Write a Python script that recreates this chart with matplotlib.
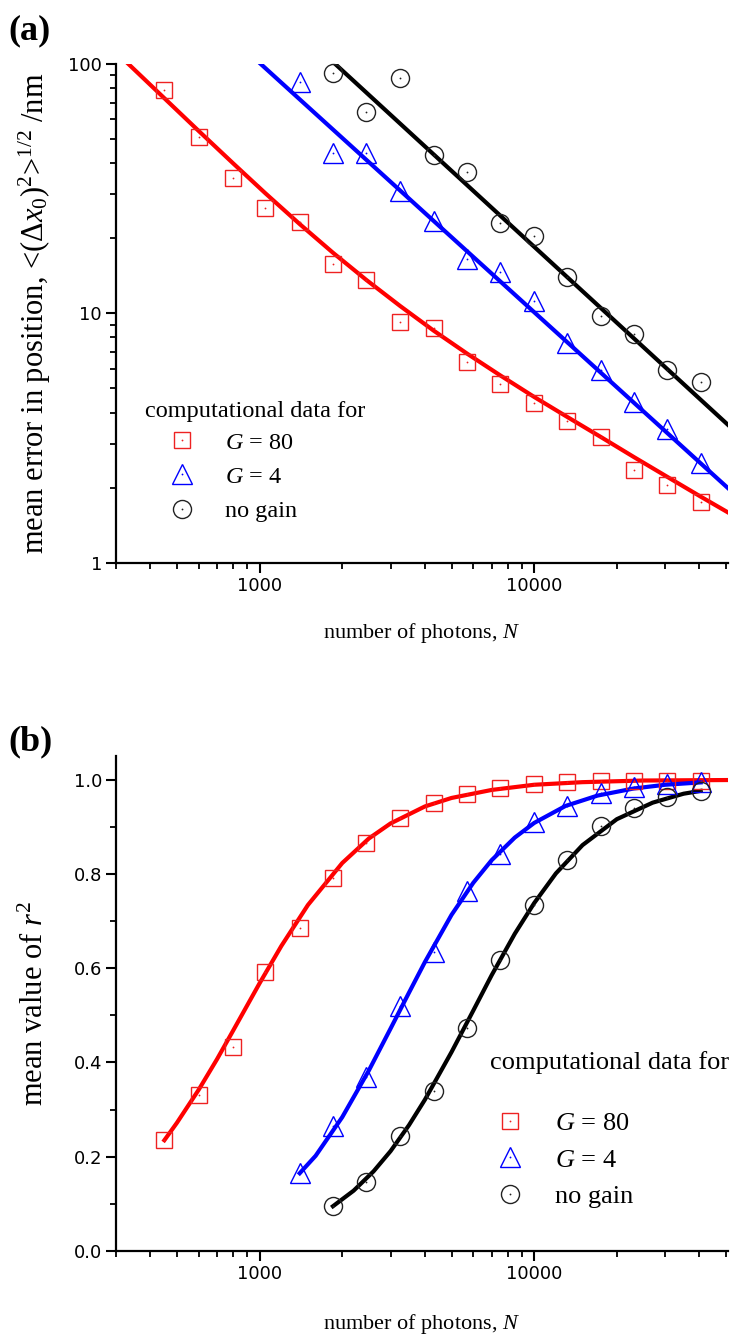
import matplotlib
matplotlib.use("Agg")
import matplotlib.pyplot as plt
from matplotlib.ticker import FixedLocator, NullFormatter, FixedFormatter

plt.rcParams['mathtext.fontset'] = 'custom'
plt.rcParams['mathtext.rm'] = 'Liberation Serif'
plt.rcParams['mathtext.it'] = 'Liberation Serif:italic'
plt.rcParams['mathtext.bf'] = 'Liberation Serif:bold'

SERIF = 'Liberation Serif'
SANS = 'DejaVu Sans'
RED = '#ff0000'
BLUE = '#0000ff'
BLACK = '#000000'

# photon numbers of the simulated points
n_g80 = [450, 600, 800, 1050, 1400, 1850, 2450, 3250, 4300, 5700, 7500,
         10000, 13200, 17500, 23100, 30500, 40400]
n_g4 = n_g80[4:]
n_nogain = n_g80[5:]

# (a) mean localisation error, nm
err_g80 = [79, 51, 35, 26.5, 23.2, 15.8, 13.6, 9.2, 8.7, 6.4, 5.2, 4.35,
           3.7, 3.2, 2.35, 2.05, 1.75]
err_g4 = [85, 44, 44, 31, 23.5, 16.5, 14.7, 11.2, 7.6, 5.9, 4.4, 3.45, 2.52]
err_nogain = [92, 64, 88, 43, 37, 23, 20.5, 14, 9.8, 8.3, 5.9, 5.3]

# (a) fitted curves
fit_a_g80_n = [333, 450, 600, 800, 1050, 1400, 1850, 2450, 3250, 4300, 5700,
               7500, 10000, 13200, 17500, 23100, 30500, 40400, 50800]
fit_a_g80 = [100, 72.9, 53.9, 40.0, 30.3, 22.8, 17.5, 13.6, 10.7, 8.53, 6.89,
             5.65, 4.62, 3.84, 3.19, 2.65, 2.21, 1.84, 1.59]
fit_a_g4_n = [1010, 50800]
fit_a_g4 = [100, 1.99]
fit_a_nogain_n = [1886, 50800]
fit_a_nogain = [100, 3.57]

# (b) mean r^2
r2_g80 = [0.235, 0.331, 0.433, 0.592, 0.685, 0.791, 0.865, 0.918, 0.950,
          0.969, 0.982, 0.990, 0.994, 0.998, 0.998, 0.998, 0.998]
r2_g4 = [0.165, 0.265, 0.369, 0.52, 0.634, 0.763, 0.842, 0.91, 0.944,
         0.971, 0.984, 0.99, 0.995]
r2_nogain = [0.095, 0.147, 0.244, 0.339, 0.473, 0.617, 0.734, 0.829, 0.901,
             0.94, 0.963, 0.976]

# (b) fitted curves
fit_b_g80_n = [450, 500, 600, 700, 800, 1000, 1200, 1500, 2000, 2500, 3000,
               4000, 5000, 7000, 10000, 15000, 25000, 50000]
fit_b_g80 = [0.235, 0.272, 0.342, 0.407, 0.467, 0.568, 0.647, 0.734, 0.823,
             0.875, 0.907, 0.943, 0.961, 0.978, 0.989, 0.9945, 0.998, 0.999]
fit_b_g4_n = [1400, 1600, 2000, 2500, 3000, 3500, 4000, 5000, 6000, 7000,
              8500, 10000, 13000, 17000, 23000, 30000, 40400]
fit_b_g4 = [0.165, 0.202, 0.284, 0.383, 0.472, 0.548, 0.613, 0.713, 0.781,
            0.829, 0.877, 0.908, 0.944, 0.966, 0.981, 0.989, 0.994]
fit_b_nogain_n = [1850, 2200, 2600, 3000, 3500, 4000, 5000, 6000, 7000, 8500,
                  10000, 12000, 15000, 20000, 27000, 35000, 40400]
fit_b_nogain = [0.095, 0.128, 0.169, 0.212, 0.267, 0.321, 0.422, 0.510,
                0.585, 0.673, 0.738, 0.801, 0.861, 0.916, 0.951, 0.970, 0.976]

legend_title = 'computational data for'
labels = ['$G$ = 80', '$G$ = 4', 'no gain']


def points(ax, n, y, marker, color, ms):
    h = ax.plot(n, y, ls='none', marker=marker, ms=ms, mfc='none', mec=color,
                mew=1.0, clip_on=False, zorder=4)[0]
    d = ax.plot(n, y, ls='none', marker='o', ms=1.3, mfc=color, mec=color,
                mew=0, clip_on=False, zorder=4)[0]
    return (h, d)


def style_axes(ax):
    ax.spines['top'].set_visible(False)
    ax.spines['right'].set_visible(False)
    ax.spines['left'].set_linewidth(1.6)
    ax.spines['bottom'].set_linewidth(1.6)
    ax.tick_params(which='major', direction='out', length=7, width=1.5,
                   labelsize=13, pad=3)
    ax.tick_params(which='minor', direction='out', length=4, width=1.3)
    ax.set_xscale('log')
    ax.set_xlim(300, 50800)
    ax.xaxis.set_major_locator(FixedLocator([1000, 10000]))
    ax.xaxis.set_major_formatter(FixedFormatter(['1000', '10000']))
    ax.xaxis.set_minor_locator(FixedLocator(
        [300, 400, 500, 600, 700, 800, 900, 2000, 3000, 4000, 5000, 6000,
         7000, 8000, 9000, 20000, 30000, 40000, 50000]))
    ax.xaxis.set_minor_formatter(NullFormatter())
    ax.set_xlabel('number of photons, $N$', fontfamily=SERIF, fontsize=16)


def add_legend(ax, handles, title_xy, anchor, fs, hlen, hpad):
    ax.text(title_xy[0], title_xy[1], legend_title, transform=ax.transAxes,
            fontfamily=SERIF, fontsize=fs, ha='left', va='center')
    ax.legend(handles, labels, loc='center left', bbox_to_anchor=anchor,
              frameon=False, prop={'family': SERIF, 'size': fs},
              handlelength=hlen, handletextpad=hpad, labelspacing=0.5,
              borderpad=0, borderaxespad=0)


fig = plt.figure(figsize=(7.31, 13.39), dpi=100)

# ---------------- (a)
ax1 = fig.add_axes([0.1587, 0.5798, 0.8372, 0.3724])
ax1.plot(fit_a_g80_n, fit_a_g80, color=RED, lw=3, zorder=3)
ax1.plot(fit_a_g4_n, fit_a_g4, color=BLUE, lw=3, zorder=3)
ax1.plot(fit_a_nogain_n, fit_a_nogain, color=BLACK, lw=3, zorder=3)
h1 = points(ax1, n_g80, err_g80, 's', '#ee2222', 11.5)
h2 = points(ax1, n_g4, err_g4, '^', BLUE, 14)
h3 = points(ax1, n_nogain, err_nogain, 'o', '#222222', 13)
style_axes(ax1)
ax1.set_yscale('log')
ax1.set_ylim(1, 100)
ax1.yaxis.set_major_locator(FixedLocator([1, 10, 100]))
ax1.yaxis.set_major_formatter(FixedFormatter(['1', '10', '100']))
ax1.yaxis.set_minor_locator(FixedLocator([2, 3, 4, 5, 6, 7, 8, 9,
                                          20, 30, 40, 50, 60, 70, 80, 90]))
ax1.yaxis.set_minor_formatter(NullFormatter())
for lab in ax1.get_xticklabels() + ax1.get_yticklabels():
    lab.set_fontfamily(SANS)
ax1.set_ylabel(r'mean error in position, <($\Delta x_0$)$^2$>$^{1/2}$ /nm',
               fontfamily=SERIF, fontsize=22)
ax1.yaxis.set_label_coords(-0.103, 0.5)
ax1.xaxis.set_label_coords(0.5, -0.117)
add_legend(ax1, [h1, h2, h3], (0.047, 0.304), (0.047, 0.172), 17.5, 3.05, 0.25)
fig.text(0.012, 0.977, '(a)', fontfamily=SERIF, fontweight='bold',
         fontsize=26, va='center', ha='left')

# ---------------- (b)
ax2 = fig.add_axes([0.1587, 0.0657, 0.8372, 0.3697])
ax2.plot(fit_b_g80_n, fit_b_g80, color=RED, lw=3, zorder=3)
ax2.plot(fit_b_g4_n, fit_b_g4, color=BLUE, lw=3, zorder=3)
ax2.plot(fit_b_nogain_n, fit_b_nogain, color=BLACK, lw=3, zorder=3)
g1 = points(ax2, n_g80, r2_g80, 's', '#ee2222', 11.5)
g2 = points(ax2, n_g4, r2_g4, '^', BLUE, 14)
g3 = points(ax2, n_nogain, r2_nogain, 'o', '#222222', 13)
style_axes(ax2)
ax2.set_ylim(0, 1.05)
ax2.yaxis.set_major_locator(FixedLocator([0, 0.2, 0.4, 0.6, 0.8, 1.0]))
ax2.yaxis.set_major_formatter(FixedFormatter(['0.0', '0.2', '0.4', '0.6',
                                              '0.8', '1.0']))
ax2.yaxis.set_minor_locator(FixedLocator([0.1, 0.3, 0.5, 0.7, 0.9]))
for lab in ax2.get_xticklabels() + ax2.get_yticklabels():
    lab.set_fontfamily(SANS)
ax2.set_ylabel('mean value of $r^2$', fontfamily=SERIF, fontsize=22)
ax2.yaxis.set_label_coords(-0.108, 0.5)
ax2.xaxis.set_label_coords(0.5, -0.123)
add_legend(ax2, [g1, g2, g3], (0.611, 0.380), (0.583, 0.184), 19, 2.8, 0.3)
fig.text(0.012, 0.4458, '(b)', fontfamily=SERIF, fontweight='bold',
         fontsize=26, va='center', ha='left')

fig.savefig('out.png', dpi=100)
